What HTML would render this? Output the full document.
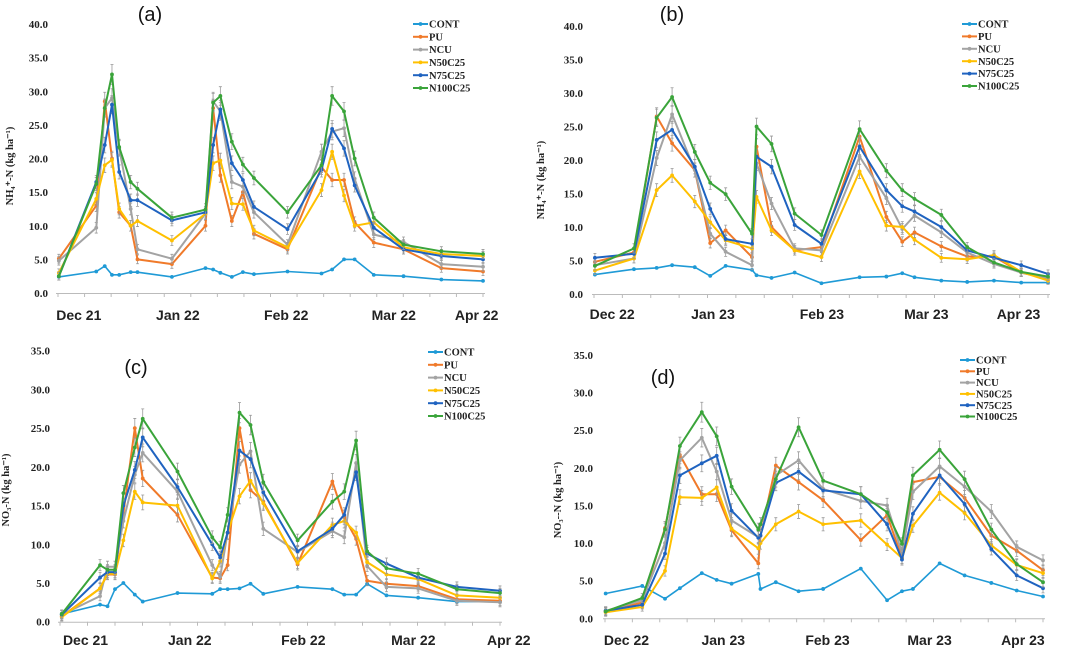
<!DOCTYPE html>
<html><head><meta charset="utf-8">
<style>
html,body{margin:0;padding:0;background:#fff;}
svg{display:block;}
text{font-family:"Liberation Serif",serif;font-weight:bold;fill:#222;}
.lbl{font-family:"Liberation Sans",sans-serif;font-weight:bold;fill:#222;}
.pl{font-family:"Liberation Sans",sans-serif;font-weight:normal;fill:#111;}
</style></head>
<body>
<svg id="chart" width="1065" height="650" viewBox="0 0 1065 650" xmlns="http://www.w3.org/2000/svg"></svg>
<script>
const seriesNames = ["CONT","PU","NCU","N50C25","N75C25","N100C25"];
const seriesColors = ["#1f9ad6","#f07a2a","#a3a3a3","#ffc000","#1f63c0","#3aa43a"];

// Panel (a) NH4-N 2021-22
const aDays = [0.2,9,11,12.7,14.4,17.1,18.7,26.8,34.7,36.5,38.2,40.9,43.5,46.1,54,62,64.5,67.3,69.8,74.3,81.3,90.2,100];
const aCONT = [2.4,3.2,4.0,2.7,2.7,3.1,3.1,2.4,3.7,3.5,3.0,2.4,3.1,2.8,3.2,2.9,3.5,5.0,5.0,2.7,2.5,2.0,1.8];
const aPU = [5.1,13,28.5,20,12,10,5,4.3,10,27.5,17.5,10.7,15,8.8,6.5,18.7,16.8,16.8,10.5,7.5,6.5,3.7,3.2];
const aNCU = [4.8,9.7,27.5,29,21.5,12.5,6.5,5.1,11.8,28.5,27,16.5,15.8,12,7.2,21,24,24.5,17,8.7,7.6,4.3,3.9];
const aN50 = [3,14,19,19.8,12.5,10,10.7,7.8,11.8,19.3,19.7,13.3,13.2,9.3,6.8,15.3,21,14.5,10,10.5,6.8,5.8,5.5];
const aN75 = [2.5,16.5,22,28,18,13.8,13.8,10.8,12,22,27.3,19.3,16.8,12.8,9.5,18.3,24.4,21.5,16,9.7,6.5,5.5,5.0];
const aN100 = [2.5,16.2,27.5,32.5,21.7,16.5,15.5,11.2,12.4,28.3,29.3,22.5,19.1,17.1,12,19,29.3,27,20,11.2,7.2,6.2,5.8];
const aMonths = ["Dec 21","Jan 22","Feb 22","Mar 22","Apr 22"];
const aMonthDays = [4.9,28.2,53.7,79,98.5];

// Panel (b) NH4-N 2022-23
const bDays = [0.2,8.8,13.8,17.2,22.2,25.6,29,34.8,35.8,39.1,44.2,50.1,58.5,64.4,67.9,70.6,76.5,82.2,88.1,94.1,100];
const bCONT = [2.9,3.7,3.9,4.3,4.0,2.7,4.2,3.6,2.8,2.4,3.2,1.6,2.5,2.6,3.1,2.5,2.0,1.8,2.0,1.7,1.7];
const bPU = [4.8,6.2,26.5,22.5,18.5,7.6,9.5,5.5,22,10,6.5,7,23.5,11.5,7.8,9.2,7.1,5.6,5.6,3.2,2.3];
const bNCU = [4.3,5.3,20.3,26.8,18.5,9,6.3,4.3,19.5,13.5,6.8,6.5,20.5,14.3,9.7,11.7,9.2,6.2,4.5,3.2,2.4];
const bN50 = [3.5,5.3,15.5,17.7,13.8,10.7,8.0,6.8,14.5,9.5,6.5,5.5,18.3,10.2,10,8.1,5.4,5.2,5.8,3.3,2.0];
const bN75 = [5.4,6.0,23,24.5,19,12.7,8.2,7.5,20.5,19,10.3,7.5,22,15.5,13.1,12.3,10,6.5,5.4,4.3,3.0];
const bN100 = [4.2,6.8,26.3,29.4,21.2,16.6,14.9,9,25,22.4,12,8.8,24.6,18.4,15.5,14.2,11.8,7,4.7,3.3,2.6];
const bMonths = ["Dec 22","Jan 23","Feb 23","Mar 23","Apr 23"];
const bMonthDays = [4,26.2,50.2,73.2,93.5];

// Panel (c) NO3-N 2021-22
const cDays = [0.4,9.1,10.8,12.5,14.4,17.0,18.8,26.7,34.6,36.4,38.1,40.8,43.3,46.2,54,61.9,64.6,67.3,69.8,74.2,81.4,90.2,100];
const cCONT = [1.0,2.2,2.0,4.2,5.0,3.5,2.6,3.7,3.6,4.2,4.2,4.3,4.9,3.6,4.5,4.2,3.5,3.5,4.9,3.4,3.1,2.6,2.6];
const cPU = [0.7,4.3,6.1,6.1,14,25,18.5,13.8,5.7,5.6,7.3,25,17,15.5,7.4,18.1,13.5,10.7,5.3,4.9,4.6,2.9,2.7];
const cNCU = [0.9,3.3,7.1,7.1,13,19,21.8,16.8,7.3,5.8,11.5,20.3,22,12,9,11.7,10.9,20.5,7.2,4.5,4.3,2.7,2.5];
const cN50 = [0.6,4.3,6.2,6.2,10.5,16.8,15.4,15,5.6,7.8,11.5,16.2,18.2,15.3,7.6,12.5,13,11.5,7.7,6.1,5.5,3.4,3.1];
const cN75 = [0.9,5.7,6.4,6.4,15,19.6,23.8,17.4,10,8.3,11.5,22.1,21,16.7,9.1,12,13.8,19.3,8.8,7.5,5.7,4.5,4.0];
const cN100 = [1.0,7.3,6.7,6.7,16.6,22.5,26.2,19.4,10.9,9.6,13.8,27,25.4,18,10.5,15.5,16.8,23.4,9.1,6.9,6.2,4.2,3.7];
const cMonths = ["Dec 21","Jan 22","Feb 22","Mar 22","Apr 22"];
const cMonthDays = [5.8,29.5,55.3,80.3,102];

// Panel (d) NO3-N 2022-23
const dDays = [0.15,8.5,13.7,17.1,22.1,25.5,28.9,35,35.5,39,44.2,49.8,58.4,64.4,67.8,70.3,76.4,82.1,88.2,94,100];
const dCONT = [3.3,4.3,2.6,4.0,6.0,5.1,4.6,5.9,3.9,4.8,3.6,3.9,6.6,2.4,3.6,3.9,7.3,5.7,4.7,3.7,2.9];
const dPU = [0.9,2.1,12,21.7,16.5,16.5,11.7,7.3,11,20.3,18.1,15.7,10.4,13.7,8,18.1,18.8,16,11,9,6.4];
const dNCU = [1.0,2.4,10,21,24,19.5,13,10.8,11,19,21,17.2,15.6,15,8.7,16.8,20.2,17.5,14.2,9.5,7.7];
const dN50 = [0.8,1.5,6.3,16.1,16,17.4,11.9,9.3,10,12.5,14.2,12.5,13,9.8,8,12.3,16.7,14,9.7,7.1,6.0];
const dN75 = [1.0,1.8,8.6,19,20.6,21.6,14.3,10.7,11,18,19.5,17,16.5,12.5,7.8,13.9,19,15.2,9.2,5.7,4.0];
const dN100 = [0.9,2.7,11.8,22.9,27.4,24.2,17.5,11.8,12.5,18.5,25.4,18.3,16.5,14.1,9.9,19,22.4,18.5,11.8,7.2,4.8];
const dMonths = ["Dec 22","Jan 23","Feb 23","Mar 23","Apr 23"];
const dMonthDays = [4.9,27,50.8,74.1,95.4];

const yTicksNH4 = [0,5,10,15,20,25,30,35,40];
const yTicksNO3 = [0,5,10,15,20,25,30,35];

const panels = [
 {id:"a", days:aDays, data:[aCONT,aPU,aNCU,aN50,aN75,aN100], months:aMonths, mdays:aMonthDays, ticks:yTicksNH4, ymax:40,
  x0:58,x1:483,y0:293,y1:24, tickRight:48, labY:320, title:"NH\u2084\u207A-N  (kg ha\u207B\u00B9)", tX:13, tY:166,
  legX:413, legY:24, legDy:12.8, plX:150, plY:21, pl:"(a)"},
 {id:"b", days:bDays, data:[bCONT,bPU,bNCU,bN50,bN75,bN100], months:bMonths, mdays:bMonthDays, ticks:yTicksNH4, ymax:40,
  x0:594,x1:1048,y0:294,y1:26, tickRight:583, labY:319, title:"NH\u2084\u207A-N  (kg ha\u207B\u00B9)", tX:544, tY:180,
  legX:962, legY:24, legDy:12.4, plX:672, plY:21, pl:"(b)"},
 {id:"c", days:cDays, data:[cCONT,cPU,cNCU,cN50,cN75,cN100], months:cMonths, mdays:cMonthDays, ticks:yTicksNO3, ymax:35,
  x0:60,x1:500,y0:621.7,y1:350.7, tickRight:50, labY:645, title:"NO\u2083-N  (kg ha\u207B\u00B9)", tX:9, tY:490,
  legX:428, legY:352, legDy:12.8, plX:136, plY:374, pl:"(c)"},
 {id:"d", days:dDays, data:[dCONT,dPU,dNCU,dN50,dN75,dN100], months:dMonths, mdays:dMonthDays, ticks:yTicksNO3, ymax:35,
  x0:605,x1:1043,y0:618.3,y1:355, tickRight:593, labY:645, title:"NO\u2083--N (kg ha\u207B\u00B9)", tX:561, tY:500,
  legX:960, legY:360, legDy:11.3, plX:663, plY:384, pl:"(d)"}
];

const NS = "http://www.w3.org/2000/svg";
const svg = document.getElementById("chart");
function mk(tag, attrs, parent){ const e=document.createElementNS(NS,tag); for(const k in attrs) e.setAttribute(k,attrs[k]); (parent||svg).appendChild(e); return e; }

panels.forEach(p=>{
  const g = mk("g",{});
  
  
  const xs = d => p.x0 + (p.x1-p.x0)*d/100;
  const ys = v => p.y0 - (p.y0-p.y1)*v/p.ymax;

  // panel label
  const pl = mk("text",{x:p.plX,y:p.plY,"font-size":20,"text-anchor":"middle",class:"pl"},g);
  pl.textContent = p.pl;
  
  

  // axis
  const ax = mk("line",{x1:p.x0-2,x2:p.x1+2,y1:p.y0+0.5,y2:p.y0+0.5,stroke:"#bbb","stroke-width":1},g);
  
  
  for(let i=0;i<=16;i++){
    const tx = p.x0 + (p.x1-p.x0)*i/16;
    const t = mk("line",{x1:tx,x2:tx,y1:p.y0,y2:p.y0+4,stroke:"#bbb","stroke-width":1},g);
    
    
  }
  p.ticks.forEach(v=>{
    const t = mk("text",{x:p.tickRight,y:ys(v)+4,"font-size":11,"text-anchor":"end"},g);
    t.textContent = v.toFixed(1);
    
    
  });
  p.months.forEach((m,i)=>{
    const t = mk("text",{x:xs(p.mdays[i]),y:p.labY,"font-size":14,"text-anchor":"middle",class:"lbl"},g);
    t.textContent = m;
    
    
  });
  const yt = mk("text",{x:p.tX,y:p.tY,"font-size":10.5,"text-anchor":"middle",transform:`rotate(-90 ${p.tX} ${p.tY})`},g);
  yt.textContent = p.title;
  
  

  // series
  p.data.forEach((vals,si)=>{
    const sg = mk("g",{},g);
    
    
    if(si>0){
      vals.forEach((v,i)=>{
        const x=xs(p.days[i]), e=0.5+v*0.03;
        const eb = mk("path",{d:`M${x} ${ys(v+e)}V${ys(v-e)}M${x-1.5} ${ys(v+e)}h3M${x-1.5} ${ys(v-e)}h3`,stroke:"#999","stroke-width":0.8,fill:"none"},sg);
        
        
      });
    }
    const pts = vals.map((v,i)=>xs(p.days[i]).toFixed(1)+","+ys(v).toFixed(1)).join(" ");
    const pl2 = mk("polyline",{points:pts,fill:"none",stroke:seriesColors[si],"stroke-width":si==0?1.6:2,"stroke-linejoin":"round"},sg);
    
    
    vals.forEach((v,i)=>{
      const c = mk("circle",{cx:xs(p.days[i]),cy:ys(v),r:1.9,fill:seriesColors[si]},sg);
      
      
    });
  });

  // legend
  seriesNames.forEach((n,si)=>{
    const y = p.legY + si*p.legDy;
    const lg = mk("g",{},g);
    
    
    mk("line",{x1:p.legX,x2:p.legX+15,y1:y,y2:y,stroke:seriesColors[si],"stroke-width":2},lg);
    mk("circle",{cx:p.legX+7.5,cy:y,r:1.9,fill:seriesColors[si]},lg);
    const t = mk("text",{x:p.legX+16,y:y+3.6,"font-size":10.5},lg);
    t.textContent = n;
  });
});
</script>
</body></html>
